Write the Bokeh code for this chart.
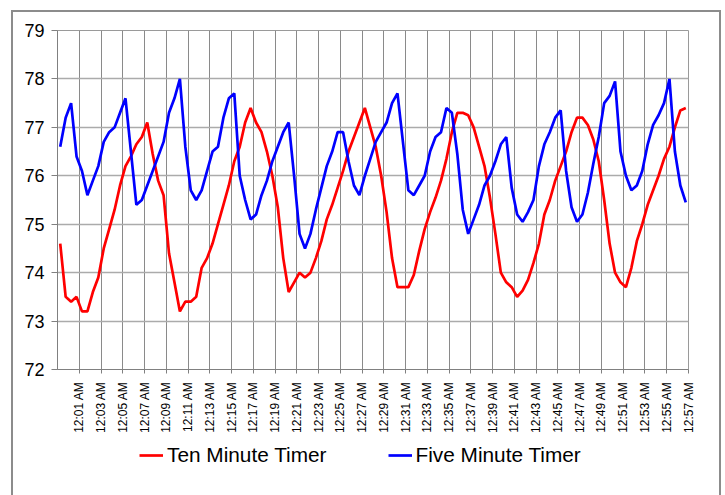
import math
from bokeh.plotting import figure
from bokeh.layouts import column
from bokeh.models import Range1d, FixedTicker, Legend, LegendItem
from bokeh.embed import file_html
from bokeh.resources import INLINE

# Temperature readings every 30 seconds
ten_minute = [74.6, 73.5, 73.4, 73.5, 73.2, 73.2, 73.6, 73.9, 74.5, 74.9,
              75.3, 75.8, 76.2, 76.4, 76.65, 76.8, 77.1, 76.45, 75.9, 75.6,
              74.4, 73.8, 73.2, 73.4, 73.4, 73.5, 74.1, 74.3, 74.6, 75.0,
              75.4, 75.8, 76.3, 76.6, 77.1, 77.4, 77.1, 76.9, 76.5, 76.0,
              75.35, 74.3, 73.6, 73.8, 74.0, 73.9, 74.0, 74.3, 74.65, 75.1,
              75.4, 75.75, 76.1, 76.5, 76.8, 77.1, 77.4, 77.0, 76.6, 76.0,
              75.25, 74.3, 73.7, 73.7, 73.7, 73.95, 74.45, 74.9, 75.25, 75.55,
              75.9, 76.35, 76.9, 77.3, 77.3, 77.25, 77.0, 76.6, 76.2, 75.55,
              74.8, 74.0, 73.8, 73.7, 73.5, 73.63, 73.85, 74.2, 74.6, 75.2,
              75.5, 75.9, 76.2, 76.5, 76.9, 77.2, 77.2, 77.05, 76.75, 76.3,
              75.5, 74.6, 74.0, 73.8, 73.7, 74.1, 74.65, 75.0, 75.4, 75.7,
              76.0, 76.35, 76.6, 77.0, 77.35, 77.4]

five_minute = [76.6, 77.2, 77.5, 76.4, 76.1, 75.6, 75.9, 76.2, 76.7, 76.9,
               77.0, 77.3, 77.6, 76.5, 75.4, 75.5, 75.8, 76.1, 76.4, 76.7,
               77.3, 77.6, 78.0, 76.6, 75.7, 75.5, 75.7, 76.1, 76.5, 76.6,
               77.2, 77.6, 77.7, 76.0, 75.5, 75.1, 75.2, 75.6, 75.9, 76.3,
               76.6, 76.9, 77.1, 76.0, 74.8, 74.5, 74.8, 75.3, 75.75, 76.2,
               76.5, 76.9, 76.9, 76.3, 75.8, 75.6, 76.0, 76.35, 76.7, 76.9,
               77.1, 77.5, 77.7, 76.7, 75.7, 75.6, 75.8, 76.0, 76.5, 76.8,
               76.9, 77.4, 77.3, 76.45, 75.3, 74.8, 75.1, 75.4, 75.8, 76.0,
               76.3, 76.65, 76.8, 75.75, 75.2, 75.05, 75.25, 75.5, 76.2, 76.65,
               76.9, 77.2, 77.35, 76.1, 75.35, 75.05, 75.2, 75.65, 76.25, 76.8,
               77.5, 77.65, 77.95, 76.5, 76.0, 75.7, 75.8, 76.1, 76.65, 77.05,
               77.25, 77.5, 78.0, 76.5, 75.8, 75.45]

tick_labels = ["12:01 AM", "12:03 AM", "12:05 AM", "12:07 AM", "12:09 AM",
               "12:11 AM", "12:13 AM", "12:15 AM", "12:17 AM", "12:19 AM",
               "12:21 AM", "12:23 AM", "12:25 AM", "12:27 AM", "12:29 AM",
               "12:31 AM", "12:33 AM", "12:35 AM", "12:37 AM", "12:39 AM",
               "12:41 AM", "12:43 AM", "12:45 AM", "12:47 AM", "12:49 AM",
               "12:51 AM", "12:53 AM", "12:55 AM", "12:57 AM"]
y_ticks = [72, 73, 74, 75, 76, 77, 78, 79]
series_names = ["Ten Minute Timer", "Five Minute Timer"]
series_colors = ["#ff0000", "#0000ff"]

n = len(ten_minute)
xs = [i + 0.5 for i in range(n)]
per_label = 4
tick_pos = [per_label * (k + 1) for k in range(len(tick_labels))]

FONT = "Liberation Sans"
BORDER = "#8c8c8c"

p = figure(width=725, height=440, x_range=Range1d(0, n), y_range=Range1d(y_ticks[0], y_ticks[-1]),
           output_backend="svg", toolbar_location=None,
           min_border_left=57, min_border_right=37, min_border_top=30, min_border_bottom=71)
p.background_fill_color = "white"
p.border_fill_color = None
p.outline_line_color = "#9a9a9a"
p.styles = {"box-shadow": f"inset 11px 10px 0 0 white, inset -4px 0 0 0 white, "
                          f"inset 13px 12px 0 0 {BORDER}, inset -6px 0 0 0 {BORDER}"}

# x axis
p.xaxis.ticker = FixedTicker(ticks=tick_pos)
p.xaxis.major_label_overrides = {t: lab for t, lab in zip(tick_pos, tick_labels)}
p.xaxis.major_label_orientation = math.pi / 2
p.xaxis.major_label_text_font = FONT
p.xaxis.major_label_text_font_size = "12px"
p.xaxis.major_label_text_color = "black"
p.xaxis.major_label_standoff = 8
p.xaxis.major_tick_out = 4
p.xaxis.major_tick_in = 0
p.xaxis.minor_tick_line_color = None
p.xaxis.axis_line_color = "#808080"
p.xaxis.major_tick_line_color = "#808080"

# y axis
p.yaxis.ticker = FixedTicker(ticks=y_ticks)
p.yaxis.major_label_text_font = FONT
p.yaxis.major_label_text_font_size = "18px"
p.yaxis.major_label_text_color = "black"
p.yaxis.major_label_standoff = 7
p.yaxis.major_tick_out = 6
p.yaxis.major_tick_in = 0
p.yaxis.minor_tick_line_color = None
p.yaxis.axis_line_color = "#808080"
p.yaxis.major_tick_line_color = "#808080"

# grids
p.xgrid.ticker = FixedTicker(ticks=tick_pos)
p.xgrid.grid_line_color = "#8a8a8a"
p.xgrid.grid_line_width = 1
p.ygrid.ticker = FixedTicker(ticks=y_ticks)
p.ygrid.grid_line_color = "#ababab"
p.ygrid.grid_line_width = 1.5

p.line(xs, ten_minute, line_color=series_colors[0], line_width=2.7)
p.line(xs, five_minute, line_color=series_colors[1], line_width=2.7)

# legend strip below the chart (series drawn out of view, only legend shows)
p2 = figure(width=725, height=55, x_range=Range1d(-10, -9), y_range=Range1d(0, 1),
            output_backend="svg", toolbar_location=None, min_border=0)
p2.xaxis.visible = False
p2.yaxis.visible = False
p2.grid.visible = False
p2.outline_line_color = None
p2.background_fill_color = None
p2.border_fill_color = None
p2.styles = {"box-shadow": f"inset 11px 0 0 0 white, inset -4px 0 0 0 white, "
                           f"inset 13px 0 0 0 {BORDER}, inset -6px 0 0 0 {BORDER}"}
l1 = p2.line(xs, ten_minute, line_color=series_colors[0], line_width=2.7)
l2 = p2.line(xs, five_minute, line_color=series_colors[1], line_width=2.7)

legend = Legend(items=[LegendItem(label=series_names[0], renderers=[l1]),
                       LegendItem(label=series_names[1], renderers=[l2])],
                orientation="horizontal", location=(82, 28),
                border_line_color=None, background_fill_alpha=0,
                label_text_font=FONT, label_text_font_size="20.8px",
                label_text_color="black",
                glyph_width=24, glyph_height=22, label_standoff=4, spacing=61,
                padding=0, margin=0)
p2.add_layout(legend, "center")

layout = column(p, p2, spacing=0)
open("out.html", "w").write(file_html(layout, INLINE))
